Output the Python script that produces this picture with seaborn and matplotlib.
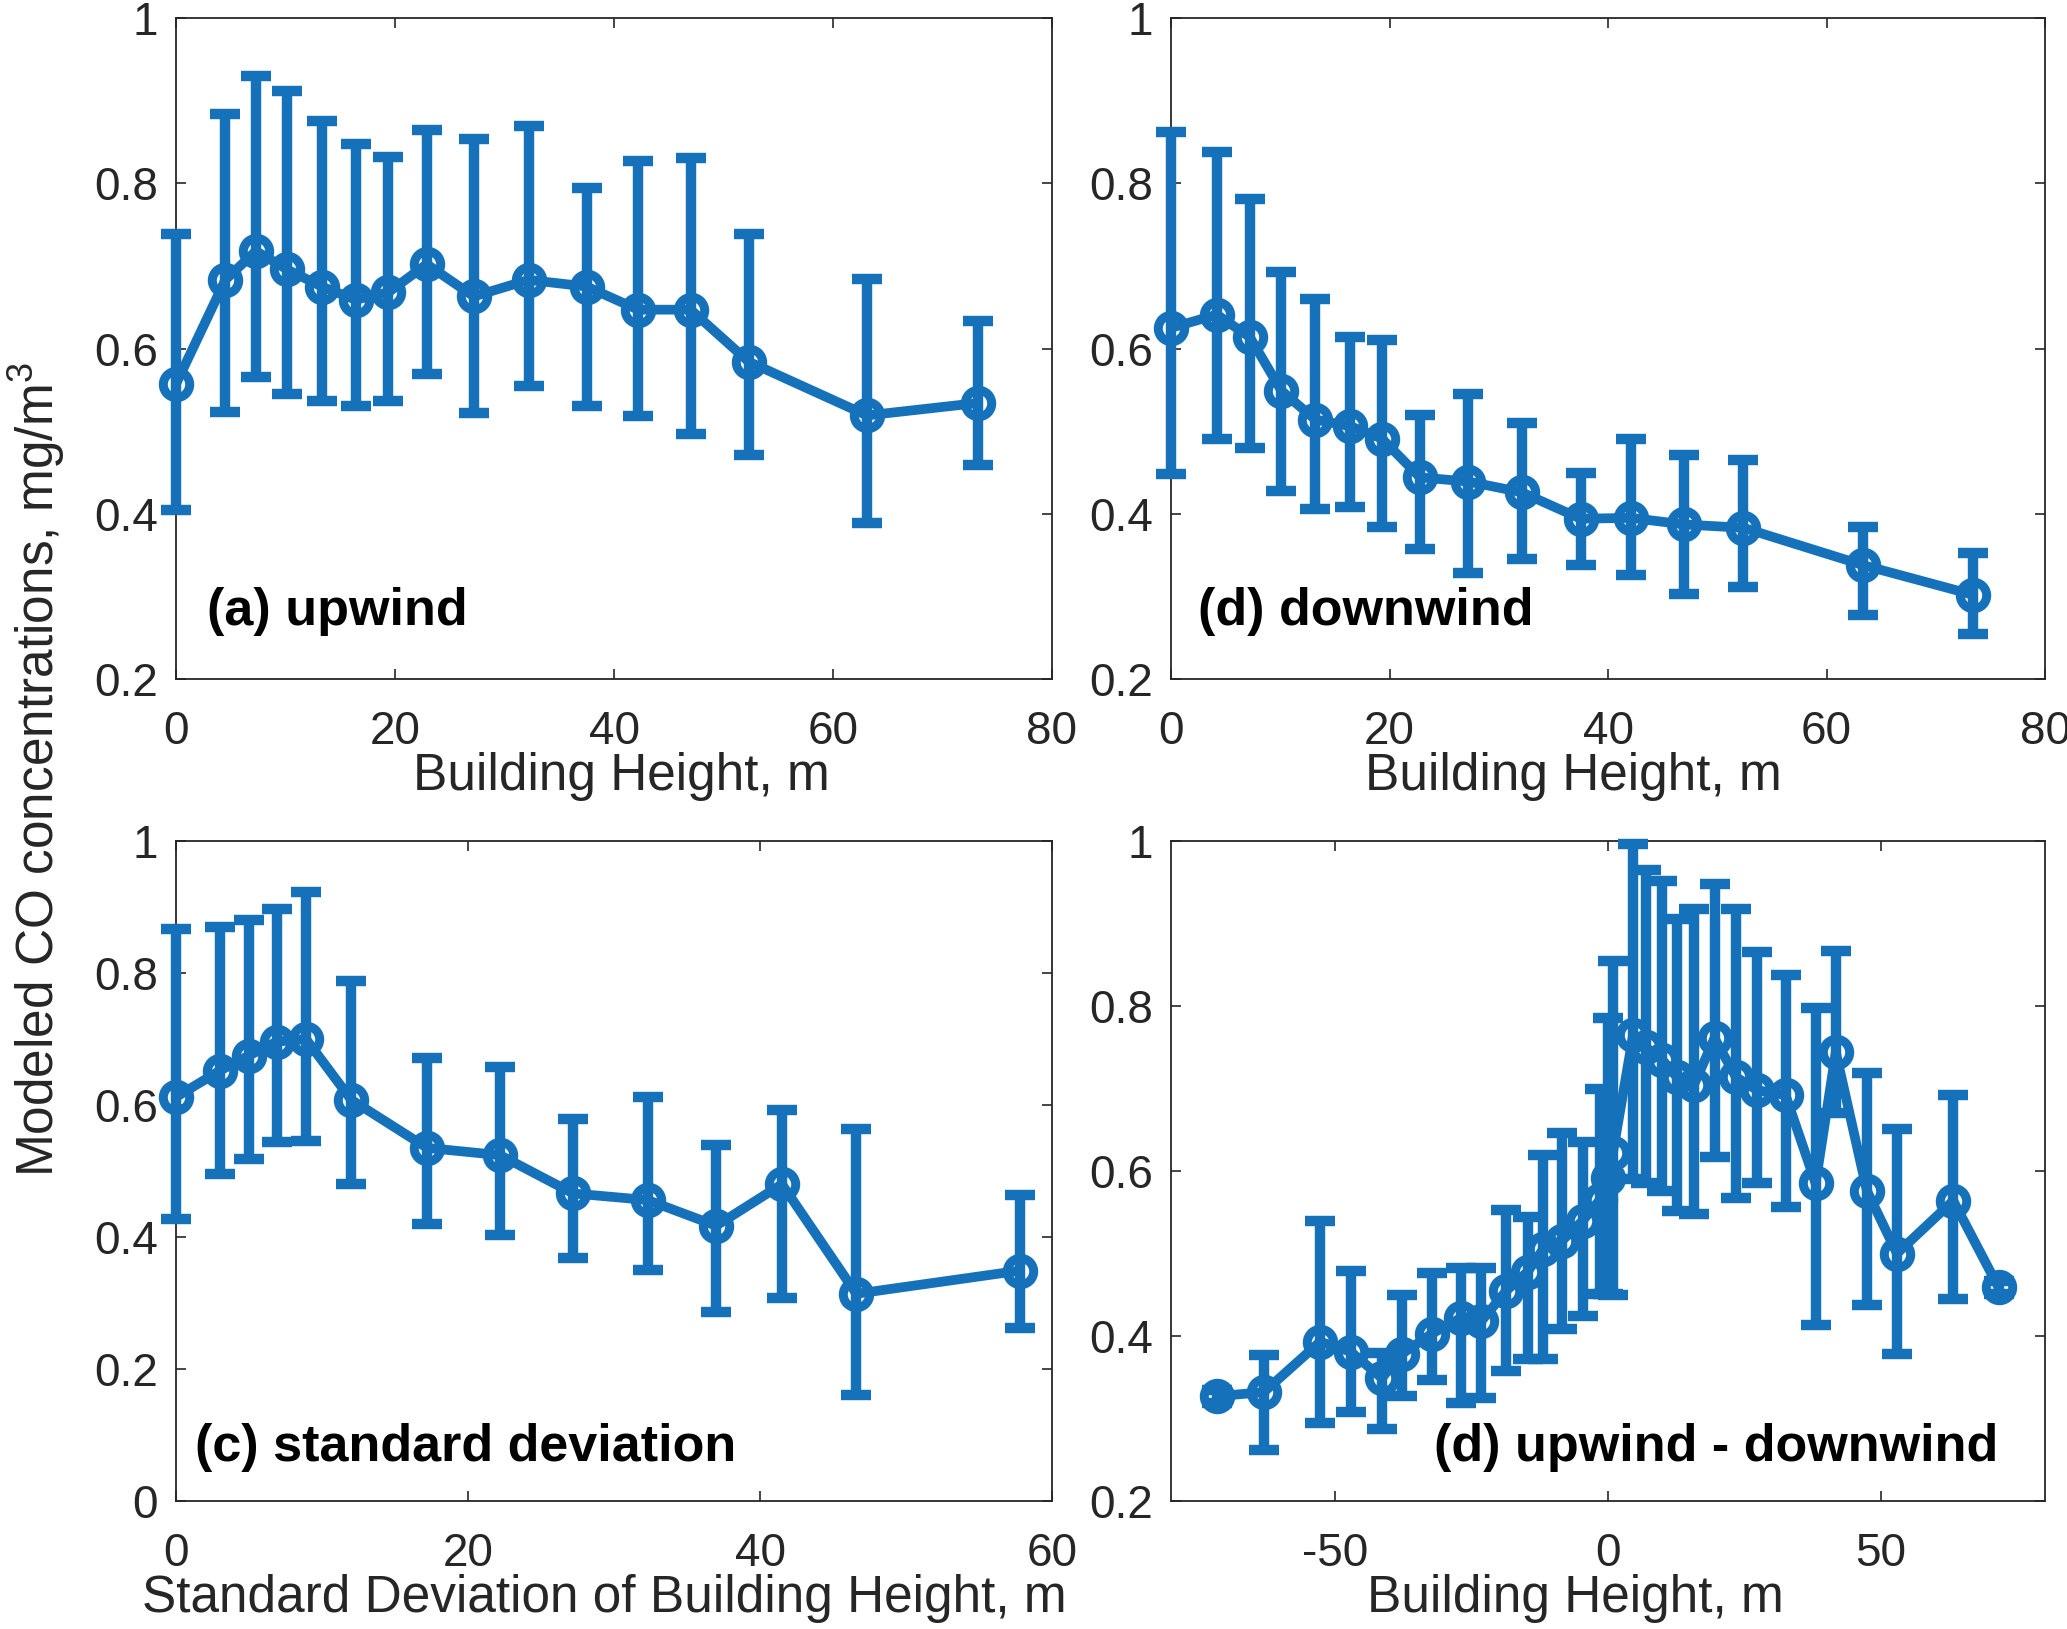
import numpy as np
import pandas as pd
import matplotlib
matplotlib.use("Agg")
import matplotlib.pyplot as plt
import seaborn as sns

# ---------------- data ----------------
# (a) upwind
x_a = [0, 4.5, 7.3, 10.1, 13.3, 16.4, 19.4, 22.9, 27.2, 32.2, 37.5, 42.2, 47.0, 52.3, 63.1, 73.2]
y_a = [0.557, 0.683, 0.718, 0.696, 0.675, 0.659, 0.668, 0.702, 0.663, 0.683, 0.675, 0.647, 0.647, 0.584, 0.519, 0.534]
hi_a = [0.738, 0.884, 0.930, 0.912, 0.875, 0.848, 0.832, 0.864, 0.853, 0.869, 0.794, 0.827, 0.831, 0.739, 0.684, 0.633]
lo_a = [0.405, 0.523, 0.566, 0.545, 0.537, 0.530, 0.537, 0.569, 0.522, 0.555, 0.530, 0.518, 0.496, 0.471, 0.389, 0.459]

# (d) downwind
x_b = [0, 4.2, 7.2, 10.1, 13.2, 16.4, 19.3, 22.8, 27.2, 32.1, 37.5, 42.1, 47.0, 52.4, 63.3, 73.4]
y_b = [0.625, 0.641, 0.614, 0.549, 0.514, 0.506, 0.491, 0.444, 0.439, 0.426, 0.394, 0.395, 0.387, 0.383, 0.338, 0.302]
hi_b = [0.862, 0.838, 0.781, 0.692, 0.660, 0.614, 0.610, 0.519, 0.545, 0.510, 0.449, 0.490, 0.471, 0.465, 0.384, 0.353]
lo_b = [0.448, 0.490, 0.480, 0.427, 0.406, 0.408, 0.384, 0.357, 0.328, 0.345, 0.338, 0.326, 0.303, 0.311, 0.278, 0.255]

# (c) standard deviation
x_c = [0, 3.0, 5.0, 6.9, 8.9, 12.0, 17.2, 22.2, 27.2, 32.3, 37.0, 41.5, 46.6, 57.8]
y_c = [0.612, 0.652, 0.675, 0.696, 0.700, 0.608, 0.535, 0.524, 0.466, 0.456, 0.417, 0.480, 0.314, 0.349]
hi_c = [0.866, 0.869, 0.881, 0.897, 0.922, 0.788, 0.671, 0.657, 0.579, 0.612, 0.539, 0.593, 0.563, 0.464]
lo_c = [0.427, 0.495, 0.518, 0.544, 0.546, 0.480, 0.419, 0.403, 0.368, 0.350, 0.286, 0.308, 0.161, 0.262]

# (d) upwind - downwind
x_d = [-71.5, -63.0, -52.7, -47.1, -41.4, -37.8, -32.2, -26.9, -23.2, -18.6, -14.7, -11.9, -8.5, -4.6,
       -1.5, 0.0, 0.9, 4.6, 6.9, 9.9, 12.6, 15.7, 19.5, 23.4, 27.3, 32.5, 38.0, 41.7, 47.4, 52.9, 63.2, 71.5]
y_d = [0.327, 0.332, 0.393, 0.381, 0.349, 0.378, 0.403, 0.422, 0.418, 0.455, 0.478, 0.505, 0.515, 0.540,
       0.565, 0.592, 0.622, 0.765, 0.750, 0.735, 0.714, 0.704, 0.761, 0.714, 0.698, 0.692, 0.585, 0.744,
       0.576, 0.500, 0.564, 0.459]
hi_d = [0.335, 0.377, 0.539, 0.479, 0.380, 0.450, 0.476, 0.482, 0.482, 0.553, 0.544, 0.619, 0.646, 0.635,
        0.700, 0.785, 0.854, 0.996, 0.965, 0.951, 0.905, 0.917, 0.948, 0.917, 0.866, 0.838, 0.797, 0.867,
        0.719, 0.651, 0.692, 0.467]
lo_d = [0.319, 0.262, 0.295, 0.308, 0.287, 0.327, 0.347, 0.319, 0.325, 0.357, 0.372, 0.372, 0.409, 0.424,
        0.451, 0.451, 0.450, 0.590, 0.585, 0.576, 0.552, 0.548, 0.617, 0.567, 0.586, 0.556, 0.413, 0.670,
        0.437, 0.378, 0.445, 0.451]

panel_labels = ["(a) upwind", "(d) downwind", "(c) standard deviation", "(d) upwind - downwind"]
x_labels = ["Building Height, m", "Building Height, m",
            "Standard Deviation of Building Height, m", "Building Height, m"]
y_label = "Modeled CO concentrations, mg/m$^3$"

xticks_top = [0, 20, 40, 60, 80]
xticks_c = [0, 20, 40, 60]
xticks_d = [-50, 0, 50]
yticks_02 = [0.2, 0.4, 0.6, 0.8, 1.0]
yticklabels_02 = ["0.2", "0.4", "0.6", "0.8", "1"]
yticks_0 = [0.0, 0.2, 0.4, 0.6, 0.8, 1.0]
yticklabels_0 = ["0", "0.2", "0.4", "0.6", "0.8", "1"]

# ---------------- style ----------------
sns.set_theme(style="ticks")
plt.rcParams["font.family"] = ["Liberation Sans", "DejaVu Sans"]
plt.rcParams["mathtext.fontset"] = "custom"
plt.rcParams["mathtext.rm"] = "Liberation Sans"
plt.rcParams["mathtext.it"] = "Liberation Sans:italic"
plt.rcParams["mathtext.bf"] = "Liberation Sans:bold"

COLOR = "#1571BA"
AXC = "#262626"

W, H = 2067, 1629
fig = plt.figure(figsize=(W / 100, H / 100), dpi=100)

def frac(x0, x1, y0, y1):
    return [x0 / W, 1 - y1 / H, (x1 - x0) / W, (y1 - y0) / H]

rects = [frac(176, 1052, 18, 679), frac(1171, 2045, 18, 679),
         frac(176, 1052, 841, 1501), frac(1171, 2045, 841, 1501)]

panels = [
    (x_a, y_a, lo_a, hi_a, (0, 80), (0.2, 1.0), xticks_top, yticks_02, yticklabels_02),
    (x_b, y_b, lo_b, hi_b, (0, 80), (0.2, 1.0), xticks_top, yticks_02, yticklabels_02),
    (x_c, y_c, lo_c, hi_c, (0, 60), (0.0, 1.0), xticks_c, yticks_0, yticklabels_0),
    (x_d, y_d, lo_d, hi_d, (-80, 80), (0.2, 1.0), xticks_d, yticks_02, yticklabels_02),
]
label_pos = [(0.035, 0.082, "left"), (0.031, 0.082, "left"),
             (0.022, 0.061, "left"), (0.946, 0.061, "right")]
xlabel_x = [0.508, 0.46, 0.489, 0.463]

for i, (rect, p) in enumerate(zip(rects, panels)):
    xs, ys, lo, hi, xl, yl, xt, yt, ytl = p
    ax = fig.add_axes(rect)
    ax.set_facecolor("white")
    xs_a = np.array(xs); ys_a = np.array(ys)
    err = np.vstack([ys_a - np.array(lo), np.array(hi) - ys_a])
    eb = ax.errorbar(xs_a, ys_a, yerr=err, fmt="none", ecolor=COLOR,
                     elinewidth=7.5, capsize=10.8, capthick=7.5, zorder=2)
    for art in eb.get_children():
        art.set_clip_on(False)
    df = pd.DataFrame({"x": xs, "y": ys})
    sns.lineplot(data=df, x="x", y="y", ax=ax, color=COLOR, linewidth=7,
                 marker="o", markersize=19, markerfacecolor="none",
                 markeredgecolor=COLOR, markeredgewidth=6.5, sort=False,
                 errorbar=None, zorder=3, clip_on=False)
    ax.set_xlim(*xl)
    ax.set_ylim(*yl)
    ax.set_xticks(xt)
    ax.set_xticklabels([str(v) for v in xt])
    ax.set_yticks(yt)
    ax.set_yticklabels(ytl)
    ax.tick_params(axis="both", direction="in", length=7, width=1.2,
                   color=AXC, labelcolor=AXC, labelsize=33, top=True, right=True)
    ax.tick_params(axis="x", pad=22)
    ax.tick_params(axis="y", pad=13)
    for s in ax.spines.values():
        s.set_visible(True)
        s.set_linewidth(1.3)
        s.set_color(AXC)
        s.set_zorder(1)
    ax.set_ylabel("")
    ax.set_xlabel(x_labels[i], fontsize=37, color=AXC, labelpad=0)
    ax.xaxis.set_label_coords(xlabel_x[i], -0.11)
    ax.xaxis.label.set_verticalalignment("top")
    lx, ly, ha = label_pos[i]
    ax.text(lx, ly, panel_labels[i], transform=ax.transAxes, ha=ha, va="baseline",
            fontsize=37.5, fontweight="bold", color="black")

fig.text(37 / W, 1 - 770 / H, y_label, rotation=90, ha="center", va="center",
         fontsize=37, color=AXC)

fig.savefig("out.png", dpi=100)
